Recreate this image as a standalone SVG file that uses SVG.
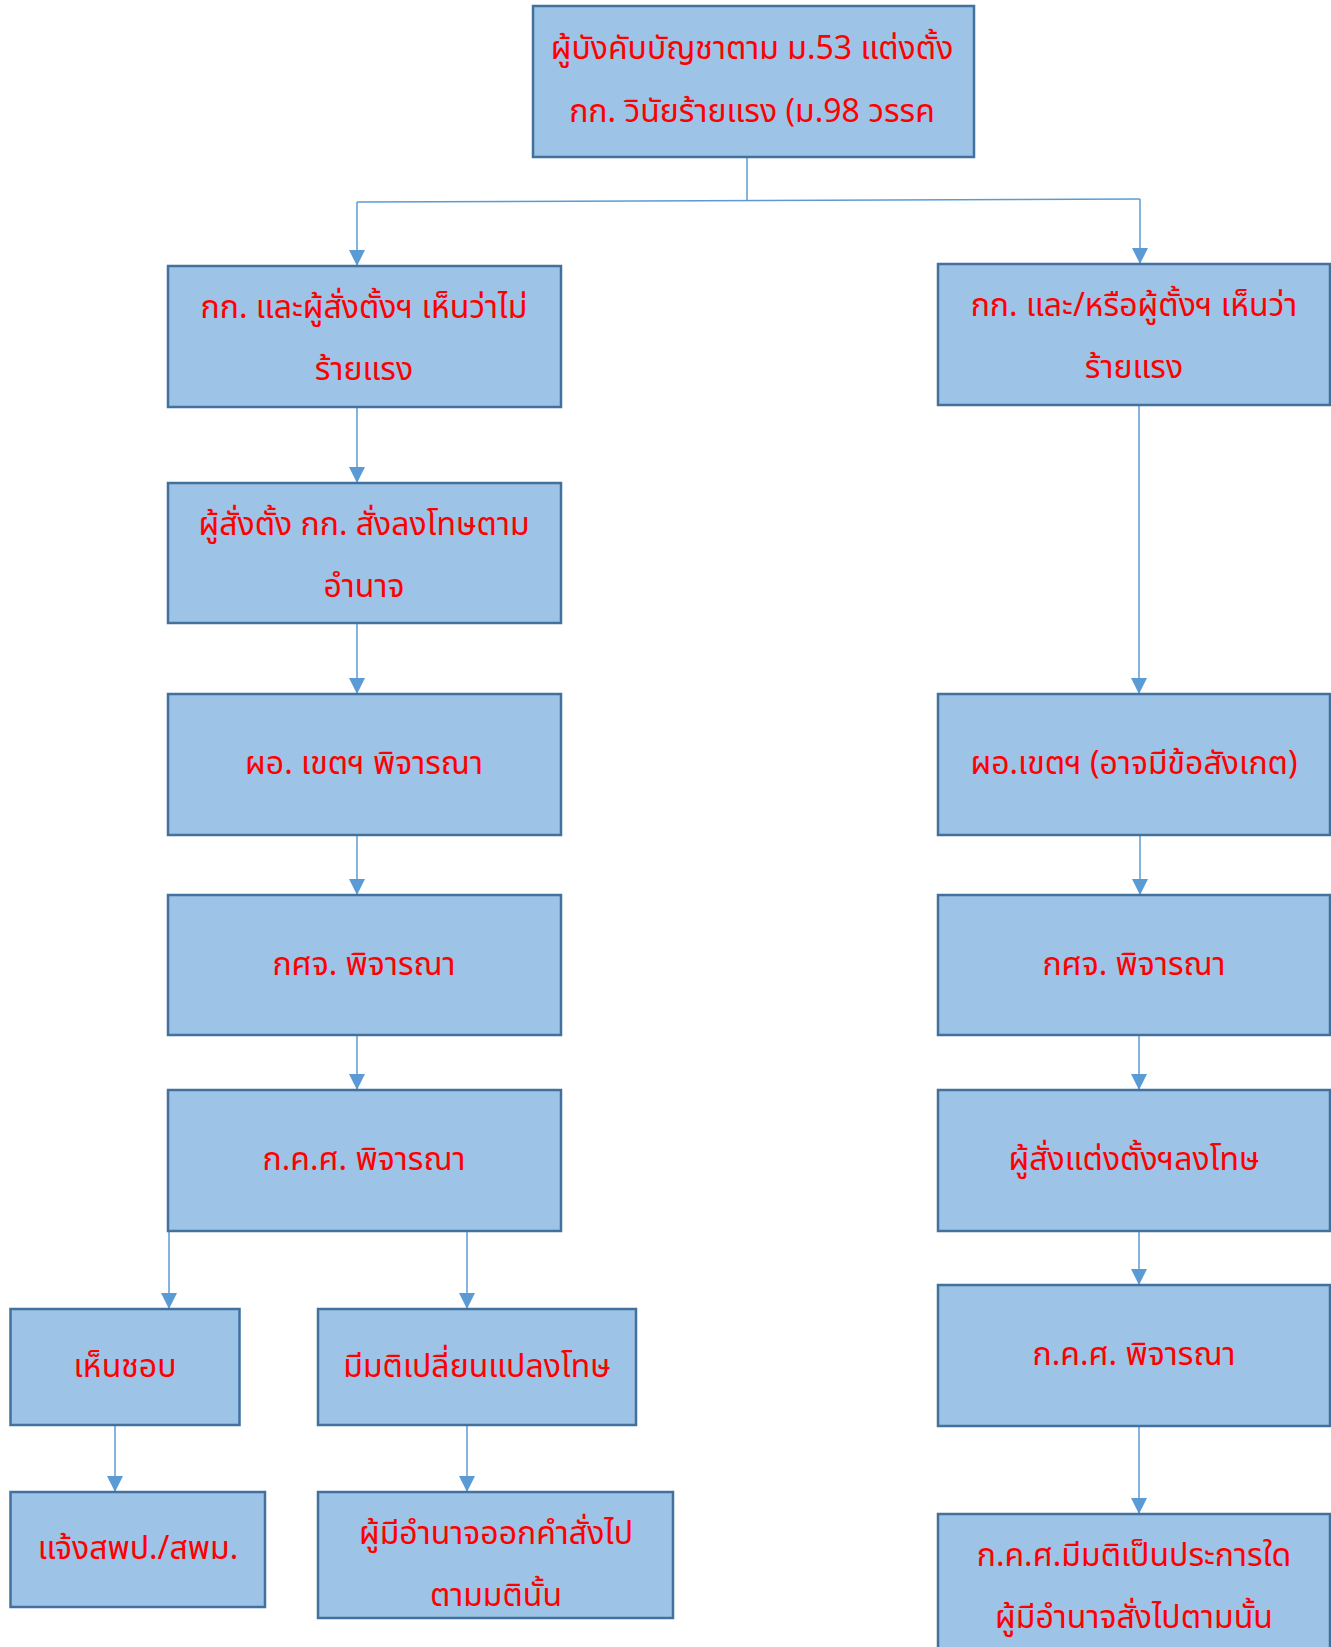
<svg xmlns="http://www.w3.org/2000/svg" width="1331" height="1647" viewBox="0 0 1331 1647">
<style>
.box{fill:#9DC3E6;stroke:#41719C;stroke-width:2.5}
.t{font-family:"Noto Sans Thai","Leelawadee UI","Tahoma","Noto Sans","DejaVu Sans",sans-serif;font-size:32px;fill:#FF0000;text-anchor:middle}
.c{stroke:#5B9BD5;stroke-width:1.5;fill:none}
</style>
<defs>
<marker id="ah" markerWidth="16" markerHeight="16" refX="10" refY="5" orient="auto" markerUnits="userSpaceOnUse" viewBox="0 0 10 10">
<path d="M0,0 L10,5 L0,10 z" fill="#5B9BD5"/>
</marker>
</defs>
<rect width="1331" height="1647" fill="#FFFFFF"/>
<g id="connectors">
<path class="c" d="M747,157 V200"/>
<path class="c" d="M357,202 L1140,199"/>
<path class="c" d="M357,202 V266" marker-end="url(#ah)"/>
<path class="c" d="M1140,199 V264" marker-end="url(#ah)"/>
<path class="c" d="M357,407 V483" marker-end="url(#ah)"/>
<path class="c" d="M357,623 V694" marker-end="url(#ah)"/>
<path class="c" d="M357,835 V895" marker-end="url(#ah)"/>
<path class="c" d="M357,1035 V1090" marker-end="url(#ah)"/>
<path class="c" d="M169,1231 V1309" marker-end="url(#ah)"/>
<path class="c" d="M467,1231 V1309" marker-end="url(#ah)"/>
<path class="c" d="M115,1425 V1492" marker-end="url(#ah)"/>
<path class="c" d="M467,1425 V1492" marker-end="url(#ah)"/>
<path class="c" d="M1139,405 V694" marker-end="url(#ah)"/>
<path class="c" d="M1140,835 V895" marker-end="url(#ah)"/>
<path class="c" d="M1139,1035 V1090" marker-end="url(#ah)"/>
<path class="c" d="M1139,1231 V1285" marker-end="url(#ah)"/>
<path class="c" d="M1139,1426 V1514" marker-end="url(#ah)"/>
</g>
<g id="n-top"><rect class="box" x="533" y="6" width="441" height="151"/>
<text class="t" x="752" y="59">ผู้บังคับบัญชาตาม ม.53 แต่งตั้ง</text>
<text class="t" x="752" y="122">กก. วินัยร้ายแรง (ม.98 วรรค</text></g>
<g id="n-l1"><rect class="box" x="168" y="266" width="393" height="141"/>
<text class="t" x="364" y="318">กก. และผู้สั่งตั้งฯ เห็นว่าไม่</text>
<text class="t" x="364" y="380">ร้ายแรง</text></g>
<g id="n-r1"><rect class="box" x="938" y="264" width="392" height="141"/>
<text class="t" x="1134" y="316">กก. และ/หรือผู้ตั้งฯ เห็นว่า</text>
<text class="t" x="1134" y="378">ร้ายแรง</text></g>
<g id="n-l2"><rect class="box" x="168" y="483" width="393" height="140"/>
<text class="t" x="364" y="535">ผู้สั่งตั้ง กก. สั่งลงโทษตาม</text>
<text class="t" x="364" y="597">อำนาจ</text></g>
<g id="n-l3"><rect class="box" x="168" y="694" width="393" height="141"/>
<text class="t" x="364" y="774">ผอ. เขตฯ พิจารณา</text></g>
<g id="n-r3"><rect class="box" x="938" y="694" width="392" height="141"/>
<text class="t" x="1134" y="774">ผอ.เขตฯ (อาจมีข้อสังเกต)</text></g>
<g id="n-l4"><rect class="box" x="168" y="895" width="393" height="140"/>
<text class="t" x="364" y="975">กศจ. พิจารณา</text></g>
<g id="n-r4"><rect class="box" x="938" y="895" width="392" height="140"/>
<text class="t" x="1134" y="975">กศจ. พิจารณา</text></g>
<g id="n-l5"><rect class="box" x="168" y="1090" width="393" height="141"/>
<text class="t" x="364" y="1170">ก.ค.ศ. พิจารณา</text></g>
<g id="n-r5"><rect class="box" x="938" y="1090" width="392" height="141"/>
<text class="t" x="1134" y="1170">ผู้สั่งแต่งตั้งฯลงโทษ</text></g>
<g id="n-r6"><rect class="box" x="938" y="1285" width="392" height="141"/>
<text class="t" x="1134" y="1365">ก.ค.ศ. พิจารณา</text></g>
<g id="n-ok"><rect class="box" x="10.5" y="1309" width="229" height="116"/>
<text class="t" x="125" y="1377">เห็นชอบ</text></g>
<g id="n-chg"><rect class="box" x="318" y="1309" width="318" height="116"/>
<text class="t" x="477" y="1377">มีมติเปลี่ยนแปลงโทษ</text></g>
<g id="n-notify"><rect class="box" x="10.5" y="1492" width="254.5" height="115"/>
<text class="t" x="138" y="1559">แจ้งสพป./สพม.</text></g>
<g id="n-order"><rect class="box" x="318" y="1492" width="355" height="126"/>
<text class="t" x="496" y="1544">ผู้มีอำนาจออกคำสั่งไป</text>
<text class="t" x="496" y="1606">ตามมตินั้น</text></g>
<g id="n-r7"><rect class="box" x="938" y="1514" width="392" height="150"/>
<text class="t" x="1134" y="1566">ก.ค.ศ.มีมติเป็นประการใด</text>
<text class="t" x="1134" y="1628">ผู้มีอำนาจสั่งไปตามนั้น</text></g>
</svg>
